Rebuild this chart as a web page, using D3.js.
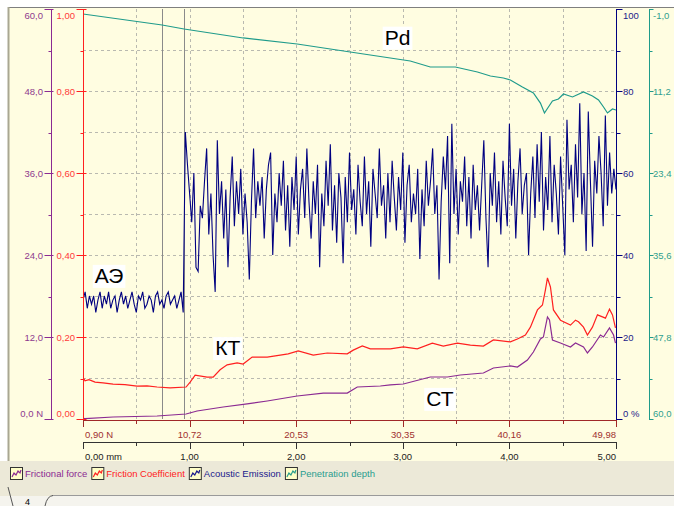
<!DOCTYPE html>
<html>
<head>
<meta charset="utf-8">
<script src="https://cdn.jsdelivr.net/npm/d3@7"></script>
<style>
  body { margin: 0; background: #fff; }
  svg { display: block; font-family: "Liberation Sans", Arial, sans-serif; }
</style>
</head>
<body>
<div id="chart"></div>
<script>
// ---- data ----
// friction coefficient (red, "КТ")
const coefMm = [0,0.019,0.056,0.113,0.188,0.282,0.394,0.507,0.601,0.695,0.817,0.967,1.005,1.052,1.164,1.221,1.286,1.352,1.446,1.502,1.587,1.728,1.850,1.925,2.019,2.160,2.291,2.479,2.535,2.620,2.695,2.883,3.005,3.136,3.277,3.380,3.512,3.634,3.756,3.850,4.009,4.075,4.150,4.197,4.263,4.310,4.338,4.357,4.385,4.413,4.479,4.573,4.620,4.648,4.695,4.732,4.779,4.826,4.873,4.901,4.939,4.967,4.995];
const coefValues = [0.102,0.093,0.096,0.090,0.088,0.085,0.084,0.080,0.081,0.078,0.076,0.078,0.090,0.107,0.102,0.102,0.120,0.132,0.137,0.134,0.151,0.151,0.156,0.159,0.166,0.156,0.161,0.159,0.168,0.178,0.171,0.171,0.176,0.171,0.185,0.178,0.185,0.180,0.178,0.193,0.188,0.195,0.205,0.224,0.266,0.278,0.315,0.344,0.322,0.266,0.241,0.229,0.241,0.237,0.224,0.205,0.224,0.254,0.249,0.246,0.268,0.254,0.222];

// frictional force, N (purple, "СТ")
const forceMm = [0,0.019,0.282,0.695,0.967,1.070,1.315,1.540,1.728,2.009,2.254,2.479,2.573,2.789,2.883,3.005,3.258,3.418,3.540,3.756,3.850,4.009,4.075,4.169,4.225,4.291,4.319,4.357,4.376,4.404,4.479,4.573,4.620,4.695,4.732,4.779,4.854,4.883,4.939,4.977,4.995];
const forceValues = [0.10,0.05,0.29,0.44,0.73,1.17,1.76,2.20,2.63,3.37,3.80,3.80,4.68,4.83,4.98,5.12,6.15,6.15,6.44,6.73,7.46,7.76,7.61,8.63,9.80,11.71,12.00,14.93,14.49,11.56,11.12,10.54,11.12,10.54,9.66,10.54,12.29,12.00,13.32,12.29,11.12];

// penetration depth, µm (teal, "Pd")
const depthMm = [0,0.742,0.948,1.502,2.009,2.507,3.070,3.258,3.493,3.700,3.822,3.944,4.009,4.122,4.225,4.291,4.329,4.366,4.404,4.460,4.507,4.592,4.695,4.779,4.836,4.883,4.920,4.967,5.0];
const depthValues = [-0.26,1.38,1.98,3.31,4.21,5.40,6.74,7.63,7.63,8.37,8.97,9.27,9.56,10.60,11.50,12.99,14.47,13.58,12.69,12.39,11.65,12.09,11.35,11.94,12.54,13.58,14.47,13.88,14.03];

// acoustic emission, % (navy, "АЭ"), one sample every 0.02 mm from 0
const aeStepMm = 0.02;
const aeValues = [
  29,31,27,30,28,30,26,29,31,27,30,28,31,27,29,30,26,29,31,28,30,27,29,31,
  28,26,30,29,31,27,28,30,29,26,30,31,28,29,27,30,31,28,29,30,27,29,31,26,
  70,62,55,48,60,37,36,52,49,58,
  66,45,55,40,31,68,50,58,44,56,
  37,54,64,47,58,50,61,45,55,48,
  34,53,66,49,58,52,59,44,56,62,
  65,40,55,48,60,52,63,46,57,42,
  59,51,64,45,56,61,49,66,53,44,
  58,50,62,37,55,47,63,52,67,46,
  57,43,60,54,38,59,48,65,51,56,
  45,62,53,47,64,50,58,42,61,55,
  49,66,52,57,44,60,48,63,54,46,
  59,51,65,43,57,62,48,55,50,61,
  39,56,47,63,52,58,66,50,57,34,
  53,64,56,69,38,72,50,61,45,58,
  53,64,47,59,44,62,51,57,46,57,
  68,49,37,60,52,65,48,58,45,63,
  54,47,72,52,61,44,58,66,50,57,
  60,40,55,64,49,67,53,70,46,59,
  51,69,48,62,55,45,64,52,40,73,
  56,62,48,67,54,77,50,60,41,75,
  58,42,63,55,69,60,47,74,52,65,
  55,61,56
];

// axis ticks and labels
const forceTicks = [0, 12, 24, 36, 48, 60];
const forceTickLabels = ["0,0 N", "12,0", "24,0", "36,0", "48,0", "60,0"];
const coefTicks = [0, 0.2, 0.4, 0.6, 0.8, 1.0];
const coefTickLabels = ["0,00", "0,20", "0,40", "0,60", "0,80", "1,00"];
const aeTicks = [0, 20, 40, 60, 80, 100];
const aeTickLabels = ["0 %", "20", "40", "60", "80", "100"];
const depthTicks = [-1, 11.2, 23.4, 35.6, 47.8, 60];
const depthTickLabels = ["-1,0", "11,2", "23,4", "35,6", "47,8", "60,0"];
const mmTicks = [0, 1, 2, 3, 4, 5];
const mmTickLabels = ["0,00 mm", "1,00", "2,00", "3,00", "4,00", "5,00"];
const loadTickLabels = ["0,90 N", "10,72", "20,53", "30,35", "40,16", "49,98"];
const markerMm = [0.74, 0.95];

const legendItems = [
  {name: "Frictional force", color: "#8b2a92"},
  {name: "Friction Coefficient", color: "#ff2020"},
  {name: "Acoustic Emission", color: "#1a1a8c"},
  {name: "Penetration depth", color: "#2a9d8f"}
];

const curveLabels = [
  {text: "Pd", mm: 2.83, coef: 0.913},
  {text: "АЭ", mm: 0.11, coef: 0.332},
  {text: "КТ", mm: 1.24, coef: 0.156},
  {text: "СТ", mm: 3.22, coef: 0.032}
];

// ---- layout ----
const width = 674, height = 506;
const plot = {left: 83, right: 616, top: 9, bottom: 419};

const colors = {
  force: "#8b2a92", forceText: "#8e3a8e",
  coef: "#ff2020", coefText: "#ff3a3a",
  ae: "#000080", aeText: "#22228a",
  depth: "#1f9b8b", depthText: "#2f9f8f",
  load: "#a02828", grid: "#b9b9b0", marker: "#8a8a8a"
};

const svg = d3.select("#chart").append("svg")
  .attr("width", width)
  .attr("height", height);

// scales
const x = d3.scaleLinear().domain([0, 5]).range([plot.left, plot.right]);
const yCoef = d3.scaleLinear().domain([0, 1]).range([plot.bottom, plot.top]);
const yForce = d3.scaleLinear().domain([0, 60]).range([plot.bottom, plot.top]);
const yAe = d3.scaleLinear().domain([0, 100]).range([plot.bottom, plot.top]);
const yDepth = d3.scaleLinear().domain([-1, 60]).range([plot.top, plot.bottom]);

// panel backgrounds
svg.append("rect").attr("x", 8).attr("y", 7).attr("width", width - 8).attr("height", 454)
  .attr("fill", "#fffde1");
svg.append("rect").attr("x", 0).attr("y", 461).attr("width", width).attr("height", 35)
  .attr("fill", "#ece9d8");
svg.append("rect").attr("x", 0).attr("y", 496).attr("width", width).attr("height", 10)
  .attr("fill", "#f5f4ee");
svg.append("line").attr("x1", 8).attr("x2", width).attr("y1", 7.5).attr("y2", 7.5)
  .attr("stroke", "#7f7f7f");
svg.append("line").attr("x1", 8.5).attr("x2", 8.5).attr("y1", 7).attr("y2", 461)
  .attr("stroke", "#a9a792").attr("stroke-width", 2);
svg.append("line").attr("x1", 52).attr("x2", width).attr("y1", 495.5).attr("y2", 495.5)
  .attr("stroke", "#9a9a9a");
svg.append("path").attr("d", "M8,487 L13,506 M45,506 Q47,496 53,495.5")
  .attr("fill", "none").attr("stroke", "#555");
svg.append("text").attr("x", 25).attr("y", 505).attr("font-size", 9).attr("fill", "#000").text("4");

// grid
const grid = svg.append("g")
  .attr("stroke", colors.grid)
  .attr("stroke-dasharray", "3,3");
grid.selectAll("line.v")
  .data(d3.range(1, 10).map(i => i * 0.5))
  .join("line")
  .attr("class", "v")
  .attr("x1", d => Math.round(x(d)) + 0.5).attr("x2", d => Math.round(x(d)) + 0.5)
  .attr("y1", plot.top).attr("y2", plot.bottom);
grid.selectAll("line.h")
  .data(d3.range(1, 10).map(i => i / 10))
  .join("line")
  .attr("class", "h")
  .attr("x1", plot.left).attr("x2", plot.right)
  .attr("y1", d => Math.round(yCoef(d)) + 0.5).attr("y2", d => Math.round(yCoef(d)) + 0.5);

// marker lines
svg.selectAll("line.marker")
  .data(markerMm)
  .join("line")
  .attr("class", "marker")
  .attr("x1", d => Math.round(x(d)) + 0.5).attr("x2", d => Math.round(x(d)) + 0.5)
  .attr("y1", plot.top).attr("y2", plot.bottom)
  .attr("stroke", colors.marker);

// series
const clip = svg.append("clipPath").attr("id", "clip")
  .append("rect").attr("x", plot.left).attr("y", plot.top - 2)
  .attr("width", plot.right - plot.left).attr("height", plot.bottom - plot.top + 4);
const series = svg.append("g").attr("clip-path", "url(#clip)").attr("fill", "none");

const depthLine = d3.line().x((d, i) => x(depthMm[i])).y(d => yDepth(d));
series.append("path").attr("d", depthLine(depthValues))
  .attr("stroke", colors.depth).attr("stroke-width", 1.2);

const aeLine = d3.line().x((d, i) => x(i * aeStepMm)).y(d => yAe(d));
series.append("path").attr("d", aeLine(aeValues))
  .attr("stroke", colors.ae).attr("stroke-width", 1.1);

const forceLine = d3.line().x((d, i) => x(forceMm[i])).y(d => yForce(d));
series.append("path").attr("d", forceLine(forceValues))
  .attr("stroke", colors.force).attr("stroke-width", 1.2);

const coefLine = d3.line().x((d, i) => x(coefMm[i])).y(d => yCoef(d));
series.append("path").attr("d", coefLine(coefValues))
  .attr("stroke", colors.coef).attr("stroke-width", 1.2);

// y axes
function yAxis(opts) {
  const g = svg.append("g").attr("font-size", 9.5);
  const ax = opts.x + 0.5;
  g.append("line").attr("x1", ax).attr("x2", ax)
    .attr("y1", plot.top).attr("y2", plot.bottom + 1)
    .attr("stroke", opts.color);
  const majorY = opts.ticks.map(t => Math.round(opts.scale(t)) + 0.5);
  g.selectAll("line.major").data(majorY).join("line")
    .attr("x1", ax + opts.major[0]).attr("x2", ax + opts.major[1])
    .attr("y1", d => d).attr("y2", d => d)
    .attr("stroke", opts.color);
  const minorY = d3.pairs(majorY).map(([a, b]) => Math.round((a + b) / 2) + 0.5);
  g.selectAll("line.minor").data(minorY).join("line")
    .attr("x1", ax + opts.minor[0]).attr("x2", ax + opts.minor[1])
    .attr("y1", d => d).attr("y2", d => d)
    .attr("stroke", opts.color);
  g.selectAll("text").data(opts.labels).join("text")
    .attr("x", opts.x + opts.labelDx)
    .attr("y", (d, i) => {
      let y = opts.scale(opts.ticks[i]);
      if (y <= plot.top + 1) y += 6;
      if (y >= plot.bottom - 1) y -= 6;
      return y + 3.5;
    })
    .attr("text-anchor", opts.labelDx < 0 ? "end" : "start")
    .attr("fill", opts.textColor)
    .text(d => d);
}

yAxis({x: 51, scale: yForce, ticks: forceTicks, labels: forceTickLabels,
  color: colors.force, textColor: colors.forceText, major: [-7, 2], minor: [-3, 0], labelDx: -8});
yAxis({x: 83, scale: yCoef, ticks: coefTicks, labels: coefTickLabels,
  color: colors.coef, textColor: colors.coefText, major: [-7, 3], minor: [-3, 0], labelDx: -8});
yAxis({x: 616, scale: yAe, ticks: aeTicks, labels: aeTickLabels,
  color: colors.ae, textColor: colors.aeText, major: [0, 6], minor: [0, 4], labelDx: 7});
yAxis({x: 649, scale: yDepth, ticks: depthTicks, labels: depthTickLabels,
  color: colors.depth, textColor: colors.depthText, major: [0, 4], minor: [0, 3], labelDx: 4});

// bottom axes: load (N) and distance (mm)
function xAxis(yLine, labels, color, textColor) {
  const g = svg.append("g").attr("font-size", 9.5);
  g.append("line").attr("x1", plot.left).attr("x2", plot.right + 1)
    .attr("y1", yLine + 0.5).attr("y2", yLine + 0.5).attr("stroke", color);
  g.selectAll("line.major").data(mmTicks).join("line")
    .attr("x1", d => Math.round(x(d)) + 0.5).attr("x2", d => Math.round(x(d)) + 0.5)
    .attr("y1", yLine).attr("y2", yLine + 7).attr("stroke", color);
  g.selectAll("line.minor").data(d3.range(5).map(i => i + 0.5)).join("line")
    .attr("x1", d => Math.round(x(d)) + 0.5).attr("x2", d => Math.round(x(d)) + 0.5)
    .attr("y1", yLine).attr("y2", yLine + 4).attr("stroke", color);
  g.selectAll("text").data(labels).join("text")
    .attr("x", (d, i) => x(mmTicks[i]) + (i === 0 ? 2 : 0))
    .attr("y", yLine + 18)
    .attr("text-anchor", (d, i) => i === 0 ? "start" : i === labels.length - 1 ? "end" : "middle")
    .attr("fill", textColor)
    .text(d => d);
}
xAxis(420, loadTickLabels, colors.load, "#a03030");
xAxis(442, mmTickLabels, "#333", "#222");

// curve labels with white boxes
const labelG = svg.append("g").attr("font-size", 21).attr("fill", "#000");
curveLabels.forEach(l => {
  const t = labelG.append("text")
    .attr("x", x(l.mm)).attr("y", yCoef(l.coef))
    .text(l.text);
  const b = t.node().getBBox();
  labelG.insert("rect", "text")
    .attr("x", b.x - 2).attr("y", b.y + 1)
    .attr("width", b.width + 4).attr("height", b.height)
    .attr("fill", "#fff");
});

// legend
const legend = svg.append("g").attr("font-size", 9.5);
let lx = 10;
legendItems.forEach(item => {
  const g = legend.append("g").attr("transform", `translate(${lx},467)`);
  g.append("rect").attr("x", 0.5).attr("y", 0.5).attr("width", 12).attr("height", 12)
    .attr("fill", "#ffffc8").attr("stroke", "#333");
  g.append("path").attr("d", "M2,10 L4,6 L6,8 L8,4 L10,6 L11,3")
    .attr("fill", "none").attr("stroke", item.color).attr("stroke-width", 1.2);
  const t = g.append("text").attr("x", 15).attr("y", 10).attr("fill", item.color).text(item.name);
  lx += 15 + t.node().getComputedTextLength() + 4;
});
</script>
</body>
</html>
